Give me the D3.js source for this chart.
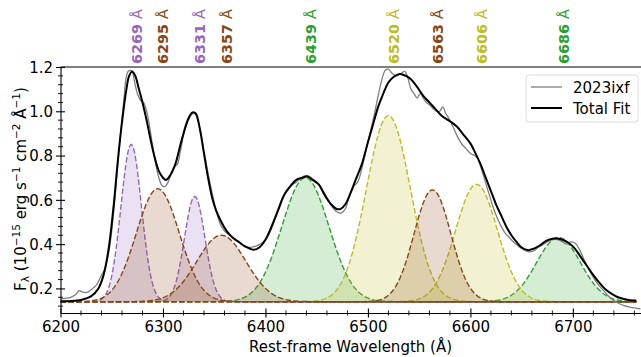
<!DOCTYPE html>
<html>
<head>
<meta charset="utf-8">
<script src="https://cdn.jsdelivr.net/npm/d3@7"></script>
<style>
  body { margin: 0; background: #fff; }
  svg text { font-family: "DejaVu Sans", sans-serif; }
</style>
</head>
<body>
<svg id="chart" width="641" height="357"></svg>
<script>
// fitted line components (centre, peak level incl. continuum, width in A)
const lineCenters = [6269, 6295, 6331, 6357, 6439, 6520, 6563, 6606, 6686];
const linePeaks   = [0.85, 0.65, 0.615, 0.44, 0.70, 0.98, 0.645, 0.67, 0.43];
const lineSigmas  = [10, 21, 10, 24, 23, 21.5, 18, 20.5, 21.5];
const lineColors  = ['#9467bd', '#8b4513', '#9467bd', '#8b4513', '#2ca02c',
                     '#bcbd22', '#8b4513', '#bcbd22', '#2ca02c'];
const continuum = 0.14;

// observed spectrum 2023ixf
const obsWave = [6200, 6205, 6210, 6215, 6218, 6222, 6226, 6230, 6235, 6240, 6243, 6247, 6250, 6253,
  6256, 6259, 6262, 6264, 6266, 6268, 6270, 6272, 6275, 6278, 6281, 6284, 6287, 6290, 6293, 6296,
  6299, 6302, 6305, 6308, 6311, 6314, 6317, 6320, 6324, 6328, 6331, 6334, 6337, 6340, 6344, 6348,
  6352, 6356, 6360, 6365, 6370, 6375, 6380, 6385, 6390, 6395, 6400, 6405, 6410, 6415, 6420, 6425,
  6430, 6435, 6440, 6445, 6450, 6455, 6460, 6465, 6470, 6474, 6478, 6482, 6486, 6490, 6494, 6498,
  6502, 6506, 6510, 6514, 6517, 6520, 6524, 6528, 6532, 6536, 6539, 6542, 6545, 6548, 6551, 6554,
  6557, 6560, 6564, 6567, 6570, 6573, 6576, 6580, 6584, 6588, 6592, 6596, 6600, 6604, 6607, 6610,
  6614, 6618, 6622, 6626, 6630, 6634, 6638, 6642, 6646, 6650, 6654, 6658, 6662, 6666, 6670, 6675,
  6680, 6685, 6690, 6694, 6698, 6702, 6706, 6710, 6714, 6718, 6722, 6726, 6730, 6735, 6740, 6745,
  6750, 6755, 6760, 6766];
const obsFlux = [0.152, 0.155, 0.160, 0.172, 0.19, 0.183, 0.182, 0.195, 0.215, 0.26, 0.285, 0.36, 0.46, 0.60,
  0.76, 0.92, 1.06, 1.15, 1.18, 1.185, 1.18, 1.14, 1.08, 1.05, 1.04, 1.00, 0.93, 0.84, 0.76, 0.70,
  0.665, 0.66, 0.68, 0.72, 0.75, 0.76, 0.82, 0.89, 0.95, 0.985, 0.99, 0.96, 0.90, 0.82, 0.72, 0.63,
  0.55, 0.49, 0.46, 0.44, 0.42, 0.405, 0.39, 0.385, 0.39, 0.40, 0.42, 0.46, 0.52, 0.58, 0.64, 0.665,
  0.68, 0.70, 0.71, 0.70, 0.68, 0.65, 0.61, 0.57, 0.545, 0.54, 0.56, 0.62, 0.66, 0.68, 0.74, 0.82,
  0.90, 0.98, 1.07, 1.15, 1.185, 1.19, 1.17, 1.16, 1.17, 1.18, 1.15, 1.10, 1.08, 1.06, 1.08, 1.06,
  1.04, 1.03, 1.01, 1.00, 1.00, 1.02, 0.99, 0.96, 0.92, 0.88, 0.85, 0.83, 0.81, 0.80, 0.79, 0.75,
  0.69, 0.63, 0.57, 0.52, 0.48, 0.45, 0.43, 0.41, 0.395, 0.38, 0.37, 0.365, 0.37, 0.385, 0.395, 0.41,
  0.42, 0.42, 0.41, 0.40, 0.41, 0.405, 0.38, 0.34, 0.30, 0.265, 0.235, 0.21, 0.19, 0.165, 0.145, 0.132,
  0.122, 0.116, 0.112, 0.108];

// total fit
const fitWave = [6200, 6210, 6220, 6230, 6237, 6242, 6247, 6252, 6256, 6260, 6264, 6267, 6270, 6273,
  6276, 6280, 6284, 6288, 6292, 6296, 6300, 6303, 6307, 6312, 6316, 6320, 6325, 6329, 6332, 6336,
  6340, 6344, 6348, 6352, 6357, 6362, 6368, 6374, 6380, 6388, 6394, 6400, 6406, 6412, 6418, 6424,
  6430, 6436, 6441, 6446, 6452, 6458, 6464, 6469, 6473, 6478, 6483, 6488, 6494, 6500, 6505, 6510,
  6515, 6520, 6525, 6531, 6537, 6542, 6548, 6554, 6560, 6566, 6572, 6580, 6587, 6594, 6600, 6605,
  6610, 6615, 6620, 6625, 6630, 6635, 6640, 6645, 6650, 6656, 6662, 6668, 6674, 6680, 6685, 6690,
  6696, 6702, 6708, 6714, 6720, 6726, 6732, 6738, 6744, 6750, 6756, 6762];
const fitFlux = [0.142, 0.143, 0.148, 0.165, 0.20, 0.26, 0.38, 0.58, 0.78, 0.95, 1.09, 1.16, 1.18, 1.16,
  1.11, 1.04, 0.96, 0.87, 0.79, 0.73, 0.70, 0.69, 0.71, 0.76, 0.83, 0.90, 0.97, 0.995, 0.99, 0.92,
  0.81, 0.70, 0.61, 0.55, 0.50, 0.46, 0.43, 0.41, 0.39, 0.375, 0.385, 0.42, 0.48, 0.55, 0.62, 0.66,
  0.69, 0.70, 0.705, 0.69, 0.67, 0.62, 0.58, 0.56, 0.558, 0.58, 0.63, 0.69, 0.76, 0.86, 0.94, 1.02,
  1.08, 1.13, 1.155, 1.168, 1.16, 1.145, 1.11, 1.07, 1.04, 1.01, 0.98, 0.955, 0.93, 0.89, 0.855, 0.81,
  0.76, 0.70, 0.64, 0.58, 0.53, 0.48, 0.44, 0.41, 0.385, 0.373, 0.38, 0.395, 0.415, 0.424, 0.426, 0.42,
  0.405, 0.38, 0.34, 0.30, 0.26, 0.225, 0.195, 0.175, 0.16, 0.152, 0.147, 0.145];

const xTicks = [6200, 6300, 6400, 6500, 6600, 6700];
const yTicks = [0.2, 0.4, 0.6, 0.8, 1.0, 1.2];

const svg = d3.select('#chart');
const x = d3.scaleLinear().domain([6200, 6766.5]).range([60.5, 641]);
const y = d3.scaleLinear().domain([0.089, 1.2]).range([313, 67]);

const plot = svg.append('g');
plot.append('clipPath').attr('id', 'clip')
  .append('rect').attr('x', 60.5).attr('y', 67).attr('width', 581).attr('height', 246);
const g = plot.append('g').attr('clip-path', 'url(#clip)');

// gaussian components, drawn by colour group so the brown ones end on top
const groupOrder = ['#2ca02c', '#bcbd22', '#9467bd', '#8b4513'];
const order = d3.range(lineCenters.length)
  .sort((a, b) => groupOrder.indexOf(lineColors[a]) - groupOrder.indexOf(lineColors[b]) || a - b);
const grid = d3.range(6200, 6762.5, 1);
order.forEach(i => {
  const c = lineCenters[i];
  const amp = linePeaks[i] - continuum;
  const pts = grid.map(w => [w, continuum + amp * Math.exp(-0.5 * Math.pow((w - c) / lineSigmas[i], 2))]);
  g.append('path')
    .datum(pts)
    .attr('fill', lineColors[i])
    .attr('fill-opacity', 0.2)
    .attr('d', d3.area().x(d => x(d[0])).y0(y(continuum)).y1(d => y(d[1])));
  g.append('path')
    .datum(pts)
    .attr('fill', 'none')
    .attr('stroke', lineColors[i])
    .attr('stroke-width', 1.4)
    .attr('stroke-dasharray', '5.5,2.4')
    .attr('d', d3.line().x(d => x(d[0])).y(d => y(d[1])));
});

const line = d3.line().x(d => x(d[0])).y(d => y(d[1])).curve(d3.curveCatmullRom);

g.append('path')
  .datum(obsWave.map((w, i) => [w, obsFlux[i]]))
  .attr('fill', 'none').attr('stroke', '#7f7f7f').attr('stroke-width', 1.3)
  .attr('d', line);

g.append('path')
  .datum(fitWave.map((w, i) => [w, fitFlux[i]]))
  .attr('fill', 'none').attr('stroke', '#000').attr('stroke-width', 2)
  .attr('d', line);

// axes
const xAxis = svg.append('g').attr('transform', 'translate(0,313)')
  .call(d3.axisBottom(x).tickValues(xTicks).tickFormat(d3.format('d')).tickSizeOuter(0));
xAxis.select('.domain').attr('stroke', '#000').attr('stroke-width', 1.1);
xAxis.selectAll('.tick line').attr('y1', -4.5).attr('y2', 4.5).attr('stroke-width', 1.1);
xAxis.selectAll('.tick text').attr('y', 19).attr('dy', 0).attr('font-size', 15).attr('fill', '#000');
svg.append('g').selectAll('line').data(d3.range(6220, 6766, 20).filter(v => v % 100 !== 0))
  .join('line')
  .attr('x1', d => x(d)).attr('x2', d => x(d)).attr('y1', 310.5).attr('y2', 315.5)
  .attr('stroke', '#000').attr('stroke-width', 0.9);

const yAxis = svg.append('g').attr('transform', 'translate(60.5,0)')
  .call(d3.axisLeft(y).tickValues(yTicks).tickFormat(d3.format('.1f')).tickSizeOuter(0));
yAxis.select('.domain').attr('stroke', '#000').attr('stroke-width', 1.1);
yAxis.selectAll('.tick line').attr('x1', -4.5).attr('x2', 4.5).attr('stroke-width', 1.1);
yAxis.selectAll('.tick text').attr('x', -7.5).attr('dy', '0.36em').attr('font-size', 15).attr('fill', '#000');
svg.append('g').selectAll('line').data(d3.range(0.12, 1.2, 0.04).filter(v => Math.abs(v * 5 - Math.round(v * 5)) > 0.01))
  .join('line')
  .attr('x1', 58).attr('x2', 63).attr('y1', d => y(d)).attr('y2', d => y(d))
  .attr('stroke', '#000').attr('stroke-width', 0.9);

// top spine
svg.append('line').attr('x1', 60.5).attr('x2', 641).attr('y1', 67).attr('y2', 67)
  .attr('stroke', '#000').attr('stroke-width', 1.1);

// axis titles
svg.append('text').attr('x', 350.5).attr('y', 352).attr('text-anchor', 'middle')
  .attr('font-size', 15).text('Rest-frame Wavelength (Å)');

const yl = svg.append('text').attr('transform', 'translate(26,189) rotate(-90)')
  .attr('text-anchor', 'middle').attr('font-size', 15);
yl.append('tspan').text('F');
yl.append('tspan').attr('font-size', 10.5).attr('dy', 3).text('λ');
yl.append('tspan').attr('dy', -3).text(' (10');
yl.append('tspan').attr('font-size', 10.5).attr('dy', -6).text('−15');
yl.append('tspan').attr('dy', 6).text(' erg s');
yl.append('tspan').attr('font-size', 10.5).attr('dy', -6).text('−1');
yl.append('tspan').attr('dy', 6).text(' cm');
yl.append('tspan').attr('font-size', 10.5).attr('dy', -6).text('−2');
yl.append('tspan').attr('dy', 6).text(' Å');
yl.append('tspan').attr('font-size', 10.5).attr('dy', -6).text('−1');
yl.append('tspan').attr('dy', 6).text(')');

// line labels above the axes
lineCenters.forEach((c, i) => {
  const t = svg.append('text')
    .attr('transform', `translate(${x(c) + 10.5},64) rotate(-90)`)
    .attr('font-size', 14.4).attr('fill', lineColors[i]);
  t.append('tspan').attr('font-weight', 'bold').text(c + ' ');
  t.append('tspan').text('Å');
});

// legend
const leg = svg.append('g');
leg.append('rect').attr('x', 526).attr('y', 75).attr('width', 112).attr('height', 47)
  .attr('rx', 3).attr('fill', '#fff').attr('fill-opacity', 0.8).attr('stroke', '#dcdcdc');
leg.append('line').attr('x1', 531).attr('x2', 562).attr('y1', 87).attr('y2', 87)
  .attr('stroke', '#7f7f7f').attr('stroke-width', 1.3);
leg.append('line').attr('x1', 531).attr('x2', 562).attr('y1', 108).attr('y2', 108)
  .attr('stroke', '#000').attr('stroke-width', 2);
leg.append('text').attr('x', 573).attr('y', 92.5).attr('font-size', 15).text('2023ixf');
leg.append('text').attr('x', 573).attr('y', 113.5).attr('font-size', 15).text('Total Fit');
</script>
</body>
</html>
